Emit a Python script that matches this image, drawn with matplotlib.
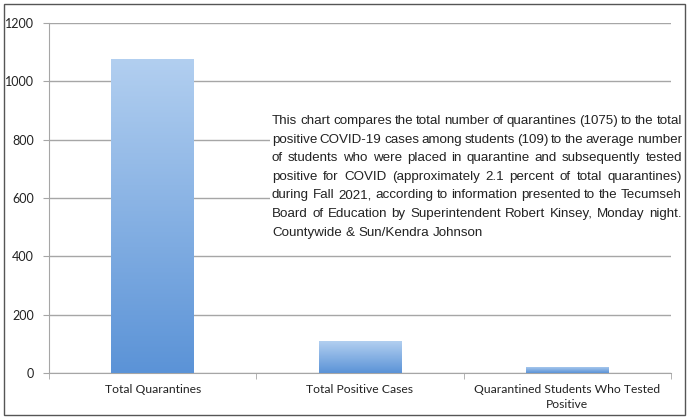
import numpy as np
import matplotlib.pyplot as plt
from matplotlib.patches import Rectangle
from matplotlib.colors import LinearSegmentedColormap

categories = ['Total Quarantines', 'Total Positive Cases',
              'Quarantined Students Who Tested\nPositive']
values = [1075, 109, 22]
y_ticks = [0, 200, 400, 600, 800, 1000, 1200]

note_lines = [
    'This chart compares the total number of quarantines (1075) to the total',
    'positive COVID-19 cases among students (109) to the average number',
    'of students who were placed in quarantine and subsequently tested',
    'positive for COVID (approximately 2.1 percent of total quarantines)',
    'during Fall 2021, according to information presented to the Tecumseh',
    'Board of Education by Superintendent Robert Kinsey, Monday night.',
    'Countywide & Sun/Kendra Johnson',
]

W, H = 691, 420
fig = plt.figure(figsize=(W / 100, H / 100), dpi=100)
ax = fig.add_axes([49 / W, 1 - 373 / H, (671 - 49) / W, (373 - 23) / H])

grey = '#a6a6a6'
label_font = ['Lato', 'DejaVu Sans']

x = np.arange(len(categories))
bars = ax.bar(x, values, width=0.40, color='none', edgecolor='none', zorder=3)

cmap = LinearSegmentedColormap.from_list('bar', ['#5b93d7', '#b2cff0'])
grad = np.linspace(0, 1, 256).reshape(-1, 1)
for b in bars:
    x0, y0 = b.get_x(), b.get_y()
    im = ax.imshow(grad, cmap=cmap, origin='lower', aspect='auto',
                   extent=[x0, x0 + b.get_width(), y0, y0 + b.get_height()],
                   zorder=3)
    im.set_clip_path(b)

ax.set_xlim(-0.5, len(categories) - 0.5)
ax.set_ylim(0, 1200)
ax.set_yticks(y_ticks)
ax.set_yticklabels([str(v) for v in y_ticks], family=label_font, fontsize=9,
                   color='#222222')
ax.set_xticks(x)
ax.set_xticklabels(categories, family=label_font, fontsize=8.7, linespacing=1.4,
                   color='#222222')
ax.set_xticks(np.arange(len(categories) + 1) - 0.5, minor=True)
ax.tick_params(axis='x', which='major', length=0, pad=8)
ax.tick_params(axis='x', which='minor', length=4, color=grey, direction='out')
ax.tick_params(axis='y', length=4, color=grey, pad=7)
ax.grid(axis='y', color=grey, linewidth=1.0, zorder=0)
ax.set_axisbelow(True)
for s in ['top', 'right']:
    ax.spines[s].set_visible(False)
for s in ['left', 'bottom']:
    ax.spines[s].set_color(grey)

# outer frame
fig.add_artist(Rectangle((4 / W, 1 - 415 / H), (685 - 4) / W, (415 - 4) / H,
                         transform=fig.transFigure, fill=False,
                         edgecolor='#555555', linewidth=1.0, zorder=5))
# white box behind the note
fig.add_artist(Rectangle((270 / W, 1 - 245 / H), (672 - 270) / W, (245 - 105) / H,
                         transform=fig.transFigure, facecolor='white',
                         edgecolor='none', zorder=1))

# justified note text
renderer = fig.canvas.get_renderer()
left_px, right_px = 272, 682
top_px, line_h = 121, 18.6
fs = 9.6
note_font = 'Liberation Sans'

sp = fig.text(0, 0, 'a a', fontsize=fs, family=note_font)
sa = fig.text(0, 0, 'aa', fontsize=fs, family=note_font)
space_w = sp.get_window_extent(renderer).width - sa.get_window_extent(renderer).width
sp.remove()
sa.remove()

for i, line in enumerate(note_lines):
    y = 1 - (top_px + i * line_h) / H
    words = line.split(' ')
    texts = [fig.text(0, y, w, fontsize=fs, family=note_font,
                      color='#222222', va='center', zorder=2) for w in words]
    widths = [t.get_window_extent(renderer).width for t in texts]
    if i < len(note_lines) - 1:
        gap = (right_px - left_px - sum(widths)) / (len(words) - 1)
    else:
        gap = space_w
    cx = left_px
    for t, w in zip(texts, widths):
        t.set_x(cx / W)
        cx += w + gap

fig.savefig('out.png', dpi=100)
